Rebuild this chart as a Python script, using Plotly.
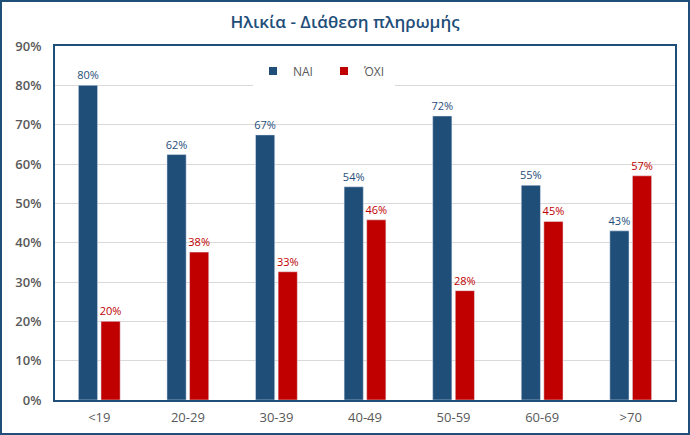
import plotly.graph_objects as go

categories = ["<19", "20-29", "30-39", "40-49", "50-59", "60-69", ">70"]
nai = [80, 62.4, 67.4, 54.2, 72.2, 54.6, 43]
oxi = [20, 37.6, 32.6, 45.8, 27.8, 45.4, 57]
series_names = ["ΝΑΙ", "ΌΧΙ"]
colors = ["#1F4E79", "#C00000"]

W, H = 690, 435
L, R, T, B = 55, 15, 46, 35
FONT = "Open Sans"

fig = go.Figure()
for name, vals, col in zip(series_names, [nai, oxi], colors):
    fig.add_trace(go.Bar(
        x=categories, y=vals, name=name, marker_color=col, showlegend=False,
        text=[f"{round(v)}%" for v in vals], textposition="outside",
        textfont=dict(color=col, size=11, family=FONT),
        constraintext="none", cliponaxis=False,
    ))
for name, col in zip(series_names, colors):
    fig.add_trace(go.Scatter(
        x=[None], y=[None], mode="markers", name=name,
        marker=dict(symbol="square", size=8, color=col),
    ))

pw = W - L - R
ph = H - T - B
fig.update_layout(
    width=W, height=H,
    margin=dict(l=L, r=R, t=T, b=B, autoexpand=False),
    paper_bgcolor="white", plot_bgcolor="white",
    barmode="group", bargap=0.49, bargroupgap=0.15,
    font=dict(family=FONT, color="#595959"),
    title=dict(text="Ηλικία - Διάθεση πληρωμής", x=0.5, xanchor="center",
               y=1 - 22 / H, yanchor="middle",
               font=dict(size=17, color="#1F4E79", family=FONT, weight=600)),
    legend=dict(orientation="h", x=(324 - L) / pw, xanchor="center",
                y=1 - (71 - T) / ph, yanchor="middle",
                bgcolor="white", font=dict(size=12, color="#595959", family=FONT),
                itemwidth=30, entrywidth=26, entrywidthmode="pixels",
                traceorder="normal"),
)
fig.update_yaxes(range=[0, 90], dtick=10, ticksuffix="%",
                 showgrid=True, gridcolor="#D9D9D9", gridwidth=1,
                 showline=True, linecolor="#1F4E79", linewidth=2, mirror=True,
                 tickfont=dict(size=13, color="#595959", family=FONT, weight=600),
                 ticklabelstandoff=9, zeroline=False, automargin=False)
fig.update_xaxes(showline=True, linecolor="#1F4E79", linewidth=2, mirror=True,
                 tickfont=dict(size=13, color="#595959", family=FONT),
                 ticks="", ticklabelstandoff=4, automargin=False)

# outer border of the chart area
x0 = (1 - L) / pw
x1 = (W - 1 - L) / pw
y0 = -(B - 1) / ph
y1 = 1 + (T - 1) / ph
fig.add_shape(type="rect", xref="paper", yref="paper",
              x0=x0, x1=x1, y0=y0, y1=y1,
              line=dict(color="#1F4E79", width=2), layer="above")

fig.write_html("out.html")
